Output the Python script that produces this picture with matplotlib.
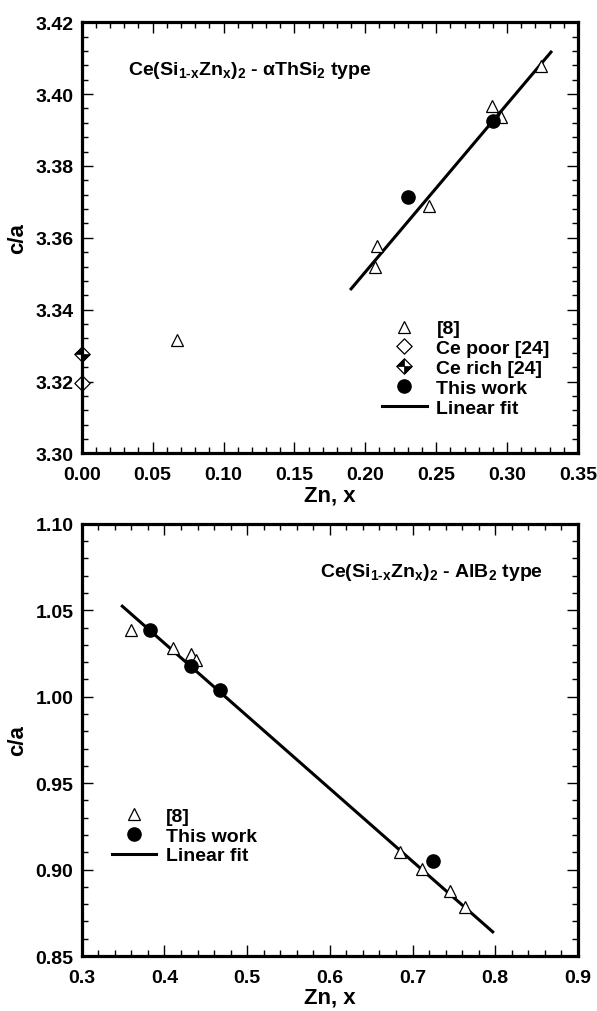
import numpy as np
import matplotlib.pyplot as plt
from matplotlib.path import Path
from matplotlib.lines import Line2D
from matplotlib.ticker import MultipleLocator

plt.rcParams['font.family'] = ['Liberation Sans', 'DejaVu Sans']
plt.rcParams['font.weight'] = 'bold'
plt.rcParams['mathtext.fontset'] = 'custom'
plt.rcParams['mathtext.rm'] = 'Liberation Sans:bold'
plt.rcParams['mathtext.it'] = 'Liberation Sans:bold'
plt.rcParams['mathtext.bf'] = 'Liberation Sans:bold'
plt.rcParams['mathtext.default'] = 'rm'

# top panel: alpha-ThSi2 type
ref8X = [0.067, 0.207, 0.208, 0.245, 0.2895, 0.2955, 0.324]
ref8Y = [3.3315, 3.352, 3.3578, 3.3688, 3.3968, 3.3936, 3.4078]
cePoorX = [0.0]
cePoorY = [3.3195]
ceRichX = [0.0]
ceRichY = [3.3278]
workX = [0.230, 0.290]
workY = [3.3715, 3.3925]
fitX = [0.190, 0.331]
fitY = [3.3458, 3.4117]

# bottom panel: AlB2 type
ref8X2 = [0.36, 0.41, 0.4326, 0.4386, 0.685, 0.712, 0.745, 0.763]
ref8Y2 = [1.0388, 1.028, 1.025, 1.0213, 0.910, 0.9006, 0.8877, 0.8782]
workX2 = [0.383, 0.432, 0.467, 0.725]
workY2 = [1.0388, 1.018, 1.004, 0.905]
fitX2 = [0.349, 0.797]
fitY2 = [1.0524, 0.864]

diamond = Path([(0, 1), (1, 0), (0, -1), (-1, 0), (0, 1)],
               [Path.MOVETO, Path.LINETO, Path.LINETO, Path.LINETO, Path.CLOSEPOLY])
halfDiamond = Path([(0, 0), (-1, 0), (0, 1), (0, 0),
                    (0, 0), (1, 0), (0, -1), (0, 0)],
                   [Path.MOVETO, Path.LINETO, Path.LINETO, Path.CLOSEPOLY,
                    Path.MOVETO, Path.LINETO, Path.LINETO, Path.CLOSEPOLY])

triKw = dict(marker='^', ms=9, mfc='white', mec='black', mew=0.9, ls='none')
dotKw = dict(marker='o', ms=9.5, mfc='black', mec='black', ls='none')
dKw = dict(marker=diamond, ms=11, mfc='white', mec='black', mew=0.9, ls='none')
hKw = dict(marker=halfDiamond, ms=11, mfc='black', mec='black', mew=0.5, ls='none')
fitKw = dict(color='black', lw=2.2)

fig = plt.figure(figsize=(5.97, 10.12), dpi=100)
ax1 = fig.add_axes([0.137, 0.551, 0.831, 0.426])
ax2 = fig.add_axes([0.137, 0.0543, 0.831, 0.427])


def styleAx(ax):
    for s in ax.spines.values():
        s.set_linewidth(2.3)
    ax.tick_params(which='both', direction='in', top=True, right=True,
                   labelsize=14, width=1.0)
    ax.tick_params(axis='x', which='both', pad=9)
    ax.tick_params(axis='y', which='both', pad=6)
    ax.tick_params(which='major', length=8)
    ax.tick_params(which='minor', length=4)
    for lb in ax.get_xticklabels() + ax.get_yticklabels():
        lb.set_fontweight('bold')
    ax.set_xlabel('Zn, x', fontsize=16, fontweight='bold', labelpad=1)
    ax.set_ylabel('c/a', fontsize=16, fontweight='bold', labelpad=5)


ax1.plot(fitX, fitY, **fitKw)
ax1.plot(ref8X, ref8Y, **triKw)
ax1.plot(cePoorX, cePoorY, clip_on=False, **dKw)
ax1.plot(ceRichX, ceRichY, clip_on=False, **dKw)
ax1.plot(ceRichX, ceRichY, clip_on=False, **hKw)
ax1.plot(workX, workY, **dotKw)
ax1.set_xlim(0.0, 0.35)
ax1.set_ylim(3.30, 3.42)
ax1.xaxis.set_major_locator(MultipleLocator(0.05))
ax1.xaxis.set_minor_locator(MultipleLocator(0.01))
ax1.yaxis.set_major_locator(MultipleLocator(0.02))
ax1.yaxis.set_minor_locator(MultipleLocator(0.004))
ax1.xaxis.set_major_formatter(lambda v, p: f'{v:.2f}')
ax1.yaxis.set_major_formatter(lambda v, p: f'{v:.2f}')
styleAx(ax1)
ax1.text(0.093, 0.89, r'Ce(Si$_{1\text{-}x}$Zn$_x$)$_2$ - αThSi$_2$ type',
         transform=ax1.transAxes, fontsize=14, fontweight='bold', va='center')

h1 = [Line2D([], [], **triKw), Line2D([], [], **dKw),
      (Line2D([], [], **dKw), Line2D([], [], **hKw)),
      Line2D([], [], **dotKw), Line2D([], [], **fitKw)]
l1 = ['[8]', 'Ce poor [24]', 'Ce rich [24]', 'This work', 'Linear fit']
ax1.legend(h1, l1, loc='upper left', bbox_to_anchor=(0.605, 0.31), frameon=False,
           handlelength=2.3, handletextpad=0.5, labelspacing=0.12,
           borderpad=0, borderaxespad=0, prop={'weight': 'bold', 'size': 14})

ax2.plot(fitX2, fitY2, **fitKw)
ax2.plot(ref8X2, ref8Y2, **triKw)
ax2.plot(workX2, workY2, **dotKw)
ax2.set_xlim(0.3, 0.9)
ax2.set_ylim(0.85, 1.10)
ax2.xaxis.set_major_locator(MultipleLocator(0.1))
ax2.xaxis.set_minor_locator(MultipleLocator(0.02))
ax2.yaxis.set_major_locator(MultipleLocator(0.05))
ax2.yaxis.set_minor_locator(MultipleLocator(0.01))
ax2.xaxis.set_major_formatter(lambda v, p: f'{v:.1f}')
ax2.yaxis.set_major_formatter(lambda v, p: f'{v:.2f}')
styleAx(ax2)
ax2.text(0.93, 0.89, r'Ce(Si$_{1\text{-}x}$Zn$_x$)$_2$ - AlB$_2$ type',
         transform=ax2.transAxes, fontsize=14, fontweight='bold', va='center',
         ha='right')

h2 = [Line2D([], [], **triKw), Line2D([], [], **dotKw), Line2D([], [], **fitKw)]
l2 = ['[8]', 'This work', 'Linear fit']
ax2.legend(h2, l2, loc='upper left', bbox_to_anchor=(0.06, 0.345), frameon=False,
           handlelength=2.3, handletextpad=0.5, labelspacing=0.12,
           borderpad=0, borderaxespad=0, prop={'weight': 'bold', 'size': 14})

fig.savefig('out.png', dpi=100)
